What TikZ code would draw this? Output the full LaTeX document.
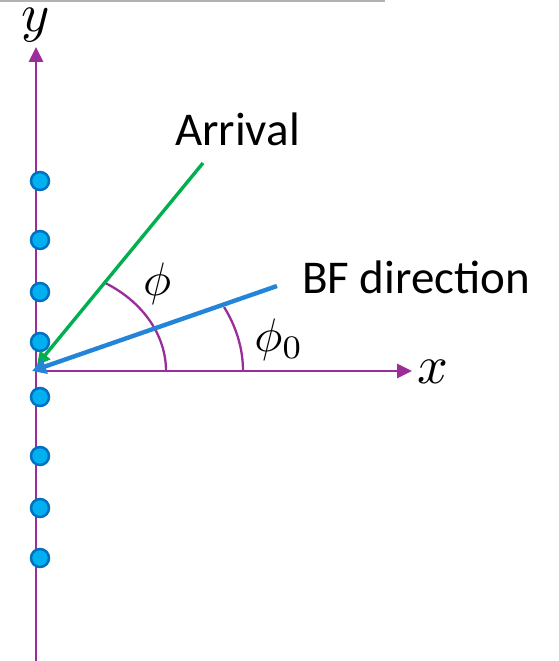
\documentclass[tikz,border=0pt]{standalone}
\usepackage{fontspec}
\setmainfont{Carlito}
\usetikzlibrary{arrows.meta}
\definecolor{axpurple}{HTML}{9B2D9B}
\definecolor{arrgreen}{HTML}{00B050}
\definecolor{bfblue}{HTML}{2484D8}
\definecolor{dotfill}{HTML}{00B0F0}
\definecolor{dotedge}{HTML}{0070C0}
\tikzset{
  axis/.style={draw=axpurple, line width=2.6pt, -{Triangle[length=15pt,width=14pt]}},
  anglearc/.style={draw=axpurple, line width=2.3pt},
  sensor/.style={circle, fill=dotfill, draw=dotedge, line width=2.5pt, minimum size=18pt, inner sep=0pt},
  lbl/.style={inner sep=0pt, font=\fontsize{47}{52}\selectfont},
  mathlbl/.style={inner sep=0pt, scale=4.7},
  axlbl/.style={inner sep=0pt, scale=5.4},
}
\begin{document}
\begin{tikzpicture}[x=1pt, y=-1pt]
\useasboundingbox (0,0) rectangle (559,661);
\draw[gray!60, line width=2pt] (0,1) -- (385,1);
\coordinate (O) at (36,371);
\coordinate (ybot) at (36,661);
\coordinate (ytop) at (36,47);
\coordinate (xend) at (412,371);
\coordinate (gstart) at (203,163);
\coordinate (gtip) at (37,365);
\coordinate (bstart) at (277,286);
\coordinate (btip) at (32,371);
% axes
\draw[axis] (ybot) -- (ytop);
\draw[axis] (O) -- (xend);
% sensors
\foreach \yy/\nm in {181/s1,240/s2,292/s3,342/s4,397/s5,456/s6,508/s7,558/s8}
  \node[sensor] (\nm) at (40,\yy) {};
% angle arcs
\draw[anglearc] (166,371) arc[start angle=0, end angle=-57.4, x radius=130, y radius=104];
\draw[anglearc] (243,371) arc[start angle=0, end angle=-24.7, x radius=207, y radius=153];
% arrival and BF direction
\draw[arrgreen, line width=3.4pt, -{Triangle[length=13pt,width=13pt]}] (gstart) -- (gtip);
\draw[bfblue, line width=4.4pt, -{Triangle[length=14pt,width=15pt]}] (bstart) -- (btip);
% labels
\node[lbl, anchor=base west] (arr) at (175,145) {Arrival};
\node[lbl, anchor=base west] (bf) at (302,293) {BF direction};
\node[mathlbl] (phi) at (157,284) {$\phi$};
\node[mathlbl] (phi0) at (279,340) {$\phi_0$};
\node[axlbl] (xl) at (433,372) {$x$};
\node[axlbl] (yl) at (36,25) {$y$};
\end{tikzpicture}
\end{document}
